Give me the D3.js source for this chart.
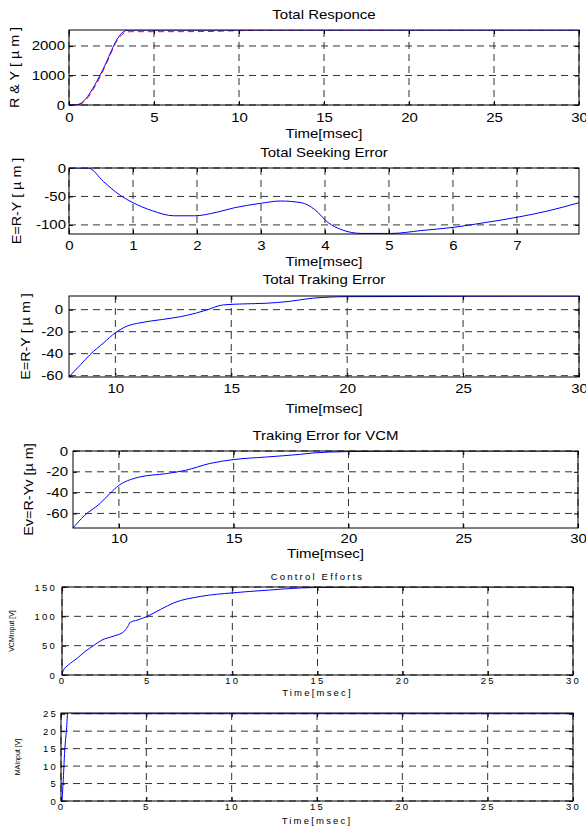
<!DOCTYPE html>
<html>
<head>
<meta charset="utf-8">
<script src="https://cdn.jsdelivr.net/npm/d3@7"></script>
<style>
  body { margin: 0; background: #fff; }
  svg { display: block; font-family: "Liberation Sans", Arial, sans-serif; }
</style>
</head>
<body>
<svg width="586" height="826"></svg>
<script>
// ---- data ----
var respTime = [0, 0.3, 0.6, 1.0, 1.4, 1.8, 2.2, 2.5, 2.8, 3.1, 3.4, 3.6, 5, 8, 10, 13, 20, 30];
var respR    = [0, 0, 20, 170, 500, 920, 1400, 1800, 2150, 2380, 2470, 2485, 2485, 2490, 2520, 2538, 2540, 2540];
var respY    = [0, 0, 30, 220, 560, 980, 1450, 1850, 2200, 2430, 2530, 2540, 2540, 2540, 2540, 2540, 2540, 2540];

var seekTime = [0, 0.3, 0.54, 0.8, 1.0, 1.3, 1.64, 1.96, 2.3, 2.58, 3.0, 3.3, 3.63, 3.84, 4.05, 4.25, 4.57, 5.04, 5.5, 6.03, 6.5, 7.03, 7.5, 7.97];
var seekErr  = [0, 0, -24, -48, -61, -75, -84, -84, -78, -70, -62, -58, -61, -73, -96, -108, -115, -115, -110, -104, -96, -86, -75, -61];

var trackTime = [8, 8.5, 8.9, 9.5, 10, 10.5, 11.06, 12, 12.8, 13.5, 13.94, 14.65, 15.5, 16.5, 17.5, 18.5, 20, 22, 25, 30];
var trackErr  = [-61, -50, -41, -30, -21, -15, -12, -9, -6.4, -3, -0.3, 4.3, 5.2, 5.8, 7.5, 10.4, 11.8, 11.9, 12.2, 12.3];

var vcmTime = [8, 8.5, 9.17, 9.6, 10, 10.5, 10.9, 12.07, 12.9, 13.96, 14.97, 16.4, 17.9, 18.45, 19.9, 22, 25, 30];
var vcmErr  = [-74, -62, -50.6, -41, -33, -27.5, -25, -21.7, -18.6, -12, -8.3, -5.8, -3.2, -1.9, -0.6, -0.2, 0, 0];

var effTime  = [0, 0.08, 0.37, 0.87, 1.35, 1.85, 2.34, 3.0, 3.62, 3.85, 4.02, 4.41, 5.0, 5.8, 6.57, 8.15, 10, 12.09, 14.06, 16, 20, 30];
var vcmInput = [0, 8, 17, 28, 40, 50, 59.5, 66, 73.6, 82, 90, 93.5, 100, 112, 123, 134, 140, 144.6, 148.5, 149.5, 150, 150];

var maTime  = [0, 0.05, 0.12, 0.22, 0.32, 0.41, 0.5, 0.61, 1, 30];
var maInput = [0, 0, 5, 14.6, 20.3, 25.8, 25.5, 25, 25, 25];

var svg = d3.select('svg');
svg.append('rect').attr('width', 586).attr('height', 826).attr('fill', '#fff');

function zip(xs, ys) { return xs.map((x, i) => [x, ys[i]]); }

// big = MATLAB style text for upper four plots, small = letter spaced for the bottom two
var bigText = { size: 12.5, sx: 1.2, ls: 0 };
var smallText = { size: 9.5, sx: 1, ls: 2.2 };

function panel(p, idx) {
  var x = d3.scaleLinear().domain(p.xDomain).range([p.left, p.right]);
  var y = d3.scaleLinear().domain(p.yDomain).range([p.bottom, p.top]);
  var st = p.small ? smallText : bigText;
  var g = svg.append('g');

  function styleText(sel) {
    sel.attr('font-size', st.size)
      .attr('letter-spacing', st.ls)
      .attr('font-weight', 'normal')
      .attr('fill', '#000')
      .attr('font-family', '"Liberation Sans", Arial, sans-serif');
  }

  // grid
  g.selectAll('line.vg').data(p.xTicks).enter().append('line')
    .attr('x1', d => x(d)).attr('x2', d => x(d))
    .attr('y1', p.top).attr('y2', p.bottom)
    .attr('stroke', '#333').attr('stroke-dasharray', '7,5');
  g.selectAll('line.hg').data(p.yTicks).enter().append('line')
    .attr('x1', p.left).attr('x2', p.right)
    .attr('y1', d => y(d)).attr('y2', d => y(d))
    .attr('stroke', '#333').attr('stroke-dasharray', '7,5');

  // axes with inside ticks
  var xa = g.append('g').attr('transform', `translate(0,${p.bottom})`)
    .call(d3.axisBottom(x).tickValues(p.xTicks).tickSize(-4).tickSizeOuter(0).tickFormat(d => String(d)));
  var ya = g.append('g').attr('transform', `translate(${p.left},0)`)
    .call(d3.axisLeft(y).tickValues(p.yTicks).tickSize(-4).tickSizeOuter(0).tickFormat(d => String(d)));
  g.append('g').attr('transform', `translate(0,${p.top})`)
    .call(d3.axisTop(x).tickValues(p.xTicks).tickSize(-4).tickSizeOuter(0).tickFormat(''));
  g.append('g').attr('transform', `translate(${p.right},0)`)
    .call(d3.axisRight(y).tickValues(p.yTicks).tickSize(-4).tickSizeOuter(0).tickFormat(''));
  g.selectAll('.domain').remove();
  g.selectAll('.tick line').attr('stroke', '#000');

  xa.selectAll('text').attr('y', p.xLabOff).attr('dy', 0)
    .attr('transform', `scale(${st.sx},1)`).call(styleText);
  ya.selectAll('text').attr('x', -p.yLabPad / st.sx)
    .attr('transform', `scale(${st.sx},1)`).call(styleText);

  // clip + lines
  var cid = 'clip' + idx;
  svg.append('clipPath').attr('id', cid).append('rect')
    .attr('x', p.left).attr('y', p.top)
    .attr('width', p.right - p.left).attr('height', p.bottom - p.top);
  var line = d3.line().x(d => x(d[0])).y(d => y(d[1])).curve(d3.curveMonotoneX);
  p.series.forEach(s => {
    g.append('path').datum(s.data)
      .attr('clip-path', `url(#${cid})`)
      .attr('d', line)
      .attr('fill', 'none')
      .attr('stroke', s.color)
      .attr('stroke-width', 1)
      .attr('stroke-dasharray', s.dash || null);
  });

  // frame
  g.append('rect').attr('x', p.left).attr('y', p.top)
    .attr('width', p.right - p.left).attr('height', p.bottom - p.top)
    .attr('fill', 'none').attr('stroke', '#000').attr('stroke-width', 1);

  var cx = (p.left + p.right) / 2;
  if (p.title) {
    g.append('text').attr('text-anchor', 'middle')
      .attr('transform', `translate(${cx},${p.titleY}) scale(${st.sx},1)`)
      .text(p.title).call(styleText);
  }
  g.append('text').attr('text-anchor', 'middle')
    .attr('transform', `translate(${cx},${p.xTitleY}) scale(${st.sx},1)`)
    .text('Time[msec]').call(styleText);
  g.append('text').attr('text-anchor', 'middle')
    .attr('transform', `translate(${p.yTitleX},${(p.top + p.bottom) / 2}) rotate(-90) scale(${p.small ? 1 : 1.15},1)`)
    .text(p.yTitle).call(styleText)
    .attr('font-size', p.small ? 7 : 12.5).attr('letter-spacing', 0);
}

var panels = [
  { left: 69, right: 579, top: 30, bottom: 105, xDomain: [0, 30], yDomain: [0, 2542],
    xTicks: [0, 5, 10, 15, 20, 25, 30], yTicks: [0, 1000, 2000],
    title: 'Total Responce', titleY: 18.5, xTitleY: 137.5, yTitle: 'R & Y [ \u00b5 m ]', yTitleX: 18.5,
    xLabOff: 16.7, yLabPad: 4,
    series: [{ data: zip(respTime, respR), color: '#ff0000', dash: '6,4' },
             { data: zip(respTime, respY), color: '#0000ff' }] },
  { left: 69, right: 579, top: 168, bottom: 234, xDomain: [0, 7.97], yDomain: [-116, 0],
    xTicks: [0, 1, 2, 3, 4, 5, 6, 7], yTicks: [-100, -50, 0],
    title: 'Total Seeking Error', titleY: 156.7, xTitleY: 266, yTitle: 'E=R-Y [ \u00b5 m ]', yTitleX: 20.5,
    xLabOff: 16, yLabPad: 3,
    series: [{ data: zip(seekTime, seekErr), color: '#0000ff' }] },
  { left: 69, right: 579, top: 296, bottom: 377, xDomain: [8, 30], yDomain: [-61.2, 12.4],
    xTicks: [10, 15, 20, 25, 30], yTicks: [-60, -40, -20, 0],
    title: 'Total Traking Error', titleY: 283.5, xTitleY: 413, yTitle: 'E=R-Y [ \u00b5 m ]', yTitleX: 30,
    xLabOff: 16.5, yLabPad: 6,
    series: [{ data: zip(trackTime, trackErr), color: '#0000ff' }] },
  { left: 73, right: 578, top: 451, bottom: 528, xDomain: [8, 30], yDomain: [-74, 0],
    xTicks: [10, 15, 20, 25, 30], yTicks: [-60, -40, -20, 0],
    title: 'Traking Error for VCM', titleY: 440, xTitleY: 558, yTitle: 'Ev=R-Yv [\u00b5 m]', yTitleX: 33,
    xLabOff: 15.3, yLabPad: 5,
    series: [{ data: zip(vcmTime, vcmErr), color: '#0000ff' }] },
  { left: 62, right: 573, top: 587, bottom: 675, xDomain: [0, 30], yDomain: [0, 150], small: true,
    xTicks: [0, 5, 10, 15, 20, 25, 30], yTicks: [0, 50, 100, 150],
    title: 'Control Efforts', titleY: 580, xTitleY: 696, yTitle: 'VCMInput [V]', yTitleX: 13.5,
    xLabOff: 8.5, yLabPad: 5,
    series: [{ data: zip(effTime, vcmInput), color: '#0000ff' }] },
  { left: 61, right: 573, top: 713, bottom: 801, xDomain: [0, 30], yDomain: [0, 25.2], small: true,
    xTicks: [0, 5, 10, 15, 20, 25, 30], yTicks: [0, 5, 10, 15, 20, 25],
    title: null, xTitleY: 824, yTitle: 'MAInput [V]', yTitleX: 20,
    xLabOff: 9.3, yLabPad: 3,
    series: [{ data: zip(maTime, maInput), color: '#0000ff' }] }
];

panels.forEach(panel);
</script>
</body>
</html>
